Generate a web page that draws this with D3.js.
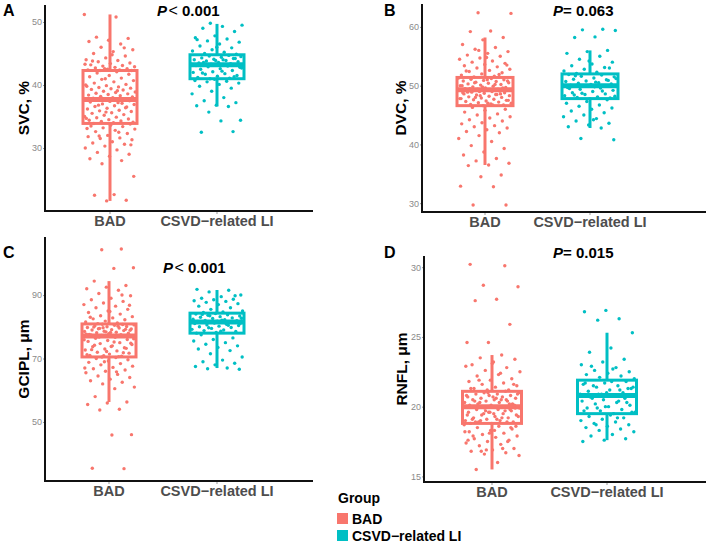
<!DOCTYPE html>
<html>
<head>
<meta charset="utf-8">
<script src="https://cdn.jsdelivr.net/npm/d3@7"></script>
<style>
body { margin: 0; background: #fff; }
text { font-family: "Liberation Sans", Arial, sans-serif; }
</style>
</head>
<body>
<svg id="chart" width="709" height="544"></svg>
<script>
// groups and colours
var groups = ["BAD", "CSVD\u2212related LI"];
var colors = ["#F8766D", "#00BFC4"];

// box stats: [whisker low, Q1, median, Q3, whisker high]
var svcStatsBAD = [21.6, 33.9, 37.7, 42.3, 51.2];
var svcStatsCSVD = [36.6, 41.0, 43.2, 44.8, 49.7];
var dvcStatsBAD = [36.5, 46.6, 49.3, 51.4, 58.2];
var dvcStatsCSVD = [42.8, 47.8, 50.0, 52.0, 56.0];
var gciplStatsBAD = [56.3, 70.5, 77.1, 80.9, 94.4];
var gciplStatsCSVD = [67.0, 78.0, 81.5, 84.3, 91.6];
var rnflStatsBAD = [15.5, 18.8, 20.0, 21.1, 23.7];
var rnflStatsCSVD = [17.6, 19.5, 20.8, 21.9, 25.3];

// tick labels
var svcTicks = [30, 40, 50];
var dvcTicks = [30, 40, 50, 60];
var gciplTicks = [50, 70, 90];
var rnflTicks = [15, 20, 25, 30];

// individual values (jittered points)
var svcBAD = [51.2, 50.8, 47.6, 47.4, 47.1, 46.9, 46.5, 46.0, 45.6, 45.3, 45.0, 44.6, 44.3, 44.0, 43.9, 43.7, 43.5, 43.4, 43.2, 43.1, 43.0, 42.9, 42.8, 42.7, 42.6, 42.5, 42.4, 42.4, 42.3, 42.3, 44.8, 43.8, 45.9, 42.6, 43.3,
  42.1, 41.9, 41.7, 41.5, 41.3, 41.1, 40.9, 40.7, 40.5, 40.3, 40.1, 39.9, 39.8, 39.7, 39.6, 39.5, 39.4, 39.3, 39.2, 39.0, 38.9, 38.8, 38.7, 38.6, 38.5, 38.4, 38.3, 38.2, 38.1, 38.0, 37.9, 37.8, 41.0, 40.0, 39.1,
  37.6, 37.5, 37.4, 37.3, 37.1, 37.0, 36.9, 36.7, 36.6, 36.5, 36.3, 36.2, 36.0, 35.9, 35.8, 35.6, 35.5, 35.3, 35.2, 35.0, 34.9, 34.8, 34.6, 34.5, 34.4, 34.3, 34.2, 34.1, 34.0, 33.9, 36.4, 35.7, 34.7, 37.2, 36.8,
  33.8, 33.6, 33.5, 33.4, 33.2, 33.0, 32.8, 32.6, 32.3, 32.0, 31.8, 31.6, 31.5, 31.3, 31.0, 30.8, 30.6, 30.3, 30.0, 29.7, 29.3, 29.0, 28.7, 28.3, 28.0, 27.5, 25.5, 22.6, 22.5, 21.7, 21.6, 33.1, 32.5, 31.9, 30.5];
var svcCSVD = [49.8, 49.5, 49.3, 49.0, 48.5, 47.8, 47.5, 47.3, 47.0, 46.8, 46.5, 46.2, 45.9, 45.6, 45.4, 45.2, 45.0, 44.9, 46.0, 47.2,
  44.7, 44.6, 44.5, 44.4, 44.3, 44.2, 44.1, 44.0, 43.9, 43.8, 43.7, 43.6, 43.5, 43.4, 43.3, 43.3, 44.0, 43.6, 44.2, 43.9,
  43.1, 43.0, 42.9, 42.8, 42.6, 42.5, 42.3, 42.1, 42.0, 41.8, 41.7, 41.5, 41.4, 41.2, 41.1, 41.0, 42.7, 42.2, 41.9, 41.3,
  40.9, 40.7, 40.6, 40.5, 40.3, 40.1, 39.8, 39.5, 39.0, 38.6, 38.0, 37.5, 37.2, 36.8, 36.7, 36.6, 35.7, 34.4, 34.3, 32.5, 32.6];

var dvcBAD = [62.4, 62.3, 59.3, 59.2, 58.2, 57.8, 57.0, 56.5, 56.2, 55.8, 55.5, 55.2, 55.0, 54.7, 54.5, 54.2, 54.0, 53.8, 53.6, 53.4, 53.2, 53.0, 52.8, 52.6, 52.4, 52.2, 52.0, 51.8, 51.6, 51.5, 53.5, 54.8, 52.5, 51.9, 56.0,
  51.3, 51.2, 51.1, 51.0, 50.9, 50.8, 50.7, 50.6, 50.5, 50.4, 50.3, 50.2, 50.1, 50.0, 49.9, 49.8, 49.7, 49.6, 49.5, 49.4, 49.4, 49.3, 49.3, 49.5, 49.6, 49.8, 50.0, 50.2, 50.5, 50.8, 51.0, 49.2, 49.1, 49.0, 49.2,
  49.0, 48.9, 48.8, 48.7, 48.6, 48.5, 48.4, 48.3, 48.2, 48.1, 48.0, 47.9, 47.8, 47.7, 47.6, 47.5, 47.4, 47.3, 47.2, 47.1, 47.0, 46.9, 46.8, 46.7, 46.6, 48.8, 48.5, 48.0, 47.5, 47.0, 48.9, 48.6, 48.3, 47.8, 46.7,
  46.3, 46.0, 45.8, 45.5, 45.2, 45.0, 44.7, 44.5, 44.2, 44.0, 43.7, 43.5, 43.2, 43.0, 42.8, 42.5, 42.2, 42.0, 41.5, 41.0, 40.5, 39.8, 39.3, 38.7, 38.2, 37.6, 37.2, 36.8, 36.5, 36.4, 34.8, 34.5, 32.9, 32.8, 29.7, 29.7];
var dvcCSVD = [59.6, 59.5, 59.4, 58.3, 58.2, 56.0, 55.8, 55.5, 55.0, 54.5, 54.0, 53.7, 53.4, 53.1, 52.8, 52.5, 52.3, 52.1, 53.0, 54.2,
  51.9, 51.8, 51.6, 51.5, 51.3, 51.1, 51.0, 50.8, 50.7, 50.5, 50.4, 50.3, 50.2, 50.1, 50.0, 50.0, 51.2, 50.6, 51.7, 50.9,
  49.9, 49.7, 49.6, 49.4, 49.2, 49.0, 48.8, 48.6, 48.5, 48.3, 48.1, 48.0, 47.9, 47.8, 49.5, 49.1, 48.7, 48.2, 49.8, 48.4,
  47.6, 47.3, 47.0, 46.7, 46.5, 46.2, 46.0, 45.7, 45.4, 45.0, 44.7, 44.4, 44.0, 43.6, 43.3, 43.0, 42.8, 41.0, 40.8, 44.2];

var gciplBAD = [104.5, 104.3, 98.6, 98.4, 94.4, 93.0, 92.5, 92.0, 91.5, 90.5, 89.8, 89.0, 88.5, 88.0, 87.5, 87.0, 86.5, 86.0, 85.5, 85.0, 84.5, 84.0, 83.5, 83.2, 82.8, 82.5, 82.2, 81.8, 81.5, 81.2, 81.0, 86.8, 84.8, 83.0, 90.0,
  80.8, 80.6, 80.5, 80.3, 80.1, 80.0, 79.8, 79.6, 79.5, 79.3, 79.1, 79.0, 78.8, 78.6, 78.5, 78.3, 78.1, 78.0, 77.8, 77.6, 77.5, 77.3, 77.2, 77.1, 79.9, 79.2, 78.4, 77.7, 80.2, 79.4, 78.9, 78.2, 77.4, 80.7, 79.7,
  77.0, 76.7, 76.4, 76.0, 75.7, 75.4, 75.0, 74.7, 74.4, 74.0, 73.7, 73.4, 73.0, 72.7, 72.4, 72.0, 71.7, 71.4, 71.0, 70.7, 70.5, 76.2, 75.2, 74.2, 73.2, 72.2, 71.2, 70.6, 76.8, 74.8, 73.8, 72.8, 71.8, 70.9, 75.9,
  70.3, 70.0, 69.6, 69.2, 68.8, 68.4, 68.0, 67.6, 67.2, 66.8, 66.4, 66.0, 65.5, 65.0, 64.5, 64.0, 63.5, 63.0, 62.5, 62.0, 61.0, 60.5, 58.0, 56.3, 56.0, 55.5, 54.0, 53.8, 46.0, 45.9, 35.4, 35.3, 69.0, 67.0, 65.8];
var gciplCSVD = [91.8, 91.5, 91.0, 90.0, 89.5, 89.0, 88.7, 88.5, 88.2, 88.0, 87.7, 87.3, 87.0, 86.5, 86.0, 85.5, 85.0, 84.7, 84.5, 89.8,
  84.2, 84.0, 83.8, 83.6, 83.4, 83.2, 83.0, 82.8, 82.6, 82.4, 82.2, 82.0, 81.9, 81.8, 81.7, 81.6, 83.5, 82.7, 82.1, 83.9,
  81.4, 81.2, 81.0, 80.8, 80.6, 80.4, 80.2, 80.0, 79.8, 79.5, 79.2, 79.0, 78.8, 78.5, 78.2, 78.0, 80.5, 79.7, 81.1, 78.6,
  77.5, 76.5, 76.0, 75.5, 75.0, 74.5, 74.0, 73.5, 73.0, 72.5, 71.5, 70.5, 69.5, 69.0, 68.5, 68.0, 67.5, 67.0, 66.8, 66.6];

var rnflBAD = [30.2, 30.1, 28.7, 28.6, 27.7, 27.6, 25.9, 24.6, 24.6, 23.7, 23.5, 23.4, 23.2, 23.0, 22.8, 22.6, 22.5, 22.3, 22.2, 22.0, 21.9, 21.8, 21.7, 21.6, 21.5, 21.4, 21.3, 21.2, 21.2, 22.9, 22.4, 21.9, 21.6, 23.1, 21.3,
  21.1, 21.0, 21.0, 20.9, 20.9, 20.8, 20.8, 20.7, 20.7, 20.6, 20.6, 20.5, 20.5, 20.4, 20.4, 20.3, 20.3, 20.2, 20.2, 20.1, 20.1, 20.0, 20.0, 20.9, 20.6, 20.4, 20.2, 21.0, 20.8, 20.5, 20.3, 20.1, 20.7, 20.0, 20.5,
  19.9, 19.9, 19.8, 19.8, 19.7, 19.6, 19.6, 19.5, 19.4, 19.4, 19.3, 19.2, 19.2, 19.1, 19.0, 19.0, 18.9, 18.9, 18.8, 18.8, 19.7, 19.5, 19.3, 19.1, 18.9, 19.8, 19.6, 19.4, 19.2, 19.0, 19.9, 19.5, 19.1, 18.9, 19.7,
  18.7, 18.6, 18.5, 18.4, 18.3, 18.2, 18.1, 18.0, 17.9, 17.8, 17.7, 17.6, 17.5, 17.4, 17.3, 17.2, 17.0, 16.9, 16.8, 16.7, 16.6, 16.5, 16.0, 15.5, 18.5, 18.1, 17.6, 17.0, 16.8, 18.6, 18.3, 17.9, 17.5, 16.9, 18.2];
var rnflCSVD = [26.9, 26.8, 26.3, 26.2, 25.3, 24.2, 23.9, 23.4, 23.2, 23.0, 22.8, 22.6, 22.5, 22.4, 22.3, 22.2, 22.1, 22.0, 22.7, 22.9,
  21.8, 21.7, 21.6, 21.5, 21.4, 21.3, 21.2, 21.1, 21.0, 20.9, 20.9, 20.8, 21.5, 21.3, 21.0, 21.7, 21.2, 20.9, 21.4, 21.8,
  20.7, 20.6, 20.5, 20.4, 20.3, 20.2, 20.1, 20.0, 19.9, 19.8, 19.7, 19.6, 19.5, 20.6, 20.3, 20.0, 19.7, 20.4, 19.9, 19.6,
  19.4, 19.3, 19.2, 19.1, 19.0, 18.9, 18.8, 18.7, 18.6, 18.5, 18.4, 18.3, 18.2, 18.0, 17.9, 17.7, 17.6, 17.5, 19.2, 18.7];

// panel layout
var panels = [
  {tag: "A", title: "SVC, %", sign: "<", p: " 0.001", values: [svcBAD, svcCSVD], stats: [svcStatsBAD, svcStatsCSVD], ticks: svcTicks,
   domain: [20.0, 52.7], ax: 45, top: 5, bottom: 211, right: 313, cx: [110, 217], bw: 54, titleX: 29, tagX: 3, tagY: 16, pX: 157, pY: 16},
  {tag: "B", title: "DVC, %", sign: "=", p: " 0.063", values: [dvcBAD, dvcCSVD], stats: [dvcStatsBAD, dvcStatsCSVD], ticks: dvcTicks,
   domain: [28.5, 63.9], ax: 422, top: 4, bottom: 212, right: 706, cx: [485, 590], bw: 56, titleX: 406, tagX: 384, tagY: 16, pX: 553, pY: 16},
  {tag: "C", title: "GCIPL, \u03bcm", sign: "<", p: " 0.001", values: [gciplBAD, gciplCSVD], stats: [gciplStatsBAD, gciplStatsCSVD], ticks: gciplTicks,
   domain: [31.4, 108.3], ax: 45, top: 237, bottom: 481, right: 313, cx: [109, 217], bw: 54, titleX: 29, tagX: 3, tagY: 258, pX: 163, pY: 273},
  {tag: "D", title: "RNFL, \u03bcm", sign: "=", p: " 0.015", values: [rnflBAD, rnflCSVD], stats: [rnflStatsBAD, rnflStatsCSVD], ticks: rnflTicks,
   domain: [14.6, 30.8], ax: 424, top: 256, bottom: 482, right: 706, cx: [492, 607], bw: 59, titleX: 407, tagX: 384, tagY: 258, pX: 553, pY: 258}
];

var svg = d3.select("#chart");

function jitter(i, k) {
  return ((i * 0.6180339887 + k * 0.37) % 1) - 0.5;
}

panels.forEach(function(pn, pi) {
  var y = d3.scaleLinear().domain(pn.domain).range([pn.bottom, pn.top]);
  var x = d3.scalePoint().domain(groups).range(pn.cx);
  var g = svg.append("g");

  // boxes
  groups.forEach(function(grp, k) {
    var s = pn.stats[k], cx = x(grp), hw = pn.bw / 2, col = colors[k];
    var bg = g.append("g").attr("stroke", col).attr("fill", "none");
    bg.append("line").attr("x1", cx).attr("x2", cx).attr("y1", y(s[0])).attr("y2", y(s[1])).attr("stroke-width", 3);
    bg.append("line").attr("x1", cx).attr("x2", cx).attr("y1", y(s[3])).attr("y2", y(s[4])).attr("stroke-width", 3);
    bg.append("rect").attr("x", cx - hw).attr("y", y(s[3])).attr("width", pn.bw).attr("height", y(s[1]) - y(s[3]))
      .attr("fill", "#fff").attr("stroke-width", 3);
    bg.append("line").attr("x1", cx - hw).attr("x2", cx + hw).attr("y1", y(s[2])).attr("y2", y(s[2])).attr("stroke-width", 5);
  });

  // jittered points
  groups.forEach(function(grp, k) {
    var cx = x(grp), hw = pn.bw / 2 * 0.95;
    g.append("g").selectAll("circle").data(pn.values[k]).join("circle")
      .attr("cx", function(d, i) { return cx + jitter(i, k + pi) * 2 * hw; })
      .attr("cy", function(d) { return y(d); })
      .attr("r", 1.7)
      .attr("fill", colors[k]);
  });

  // y axis
  var ya = g.append("g").attr("transform", "translate(" + pn.ax + ",0)")
    .call(d3.axisLeft(y).tickValues(pn.ticks).tickSize(2).tickPadding(1));
  ya.select(".domain").remove();
  ya.selectAll(".tick line").attr("stroke", "#999");
  ya.selectAll(".tick text").attr("fill", "#8a8a8a").attr("font-size", 9).style("font-family", "Liberation Sans, Arial, sans-serif");
  g.append("line").attr("x1", pn.ax).attr("x2", pn.ax).attr("y1", pn.top).attr("y2", pn.bottom + 1)
    .attr("stroke", "#111").attr("stroke-width", 2);

  // x axis
  g.append("line").attr("x1", pn.ax - 1).attr("x2", pn.right).attr("y1", pn.bottom).attr("y2", pn.bottom)
    .attr("stroke", "#111").attr("stroke-width", 2);
  groups.forEach(function(grp) {
    g.append("line").attr("x1", x(grp)).attr("x2", x(grp)).attr("y1", pn.bottom + 1).attr("y2", pn.bottom + 3)
      .attr("stroke", "#999");
    g.append("text").attr("x", x(grp)).attr("y", pn.bottom + 15).attr("text-anchor", "middle")
      .attr("font-size", 14.5).attr("font-weight", "bold").attr("fill", "#4d4d4d").text(grp);
  });

  // y title
  g.append("text").attr("transform", "translate(" + pn.titleX + "," + ((pn.top + pn.bottom) / 2) + ") rotate(-90)")
    .attr("text-anchor", "middle").attr("font-size", 15.5).attr("font-weight", "bold").attr("fill", "#000").text(pn.title);

  // panel tag
  g.append("text").attr("x", pn.tagX).attr("y", pn.tagY).attr("font-size", 16).attr("font-weight", "bold").text(pn.tag);

  // p value
  var pt = g.append("text").attr("x", pn.pX).attr("y", pn.pY).attr("font-size", 15).attr("font-weight", "bold");
  pt.append("tspan").attr("font-style", "italic").text("P");
  if (pn.sign === "<") {
    pt.append("tspan").attr("font-weight", "normal").attr("font-size", 16).attr("dx", 1.5).text("<");
  } else {
    pt.append("tspan").text("=");
  }
  pt.append("tspan").text(pn.p);
});

// legend
var lg = svg.append("g");
lg.append("text").attr("x", 338).attr("y", 503).attr("font-size", 14).attr("font-weight", "bold").text("Group");
groups.forEach(function(grp, k) {
  lg.append("rect").attr("x", 337).attr("y", 513 + k * 17).attr("width", 11).attr("height", 11).attr("fill", colors[k]);
  lg.append("text").attr("x", 352).attr("y", 524 + k * 17).attr("font-size", 14).attr("font-weight", "bold").text(grp);
});
</script>
</body>
</html>
